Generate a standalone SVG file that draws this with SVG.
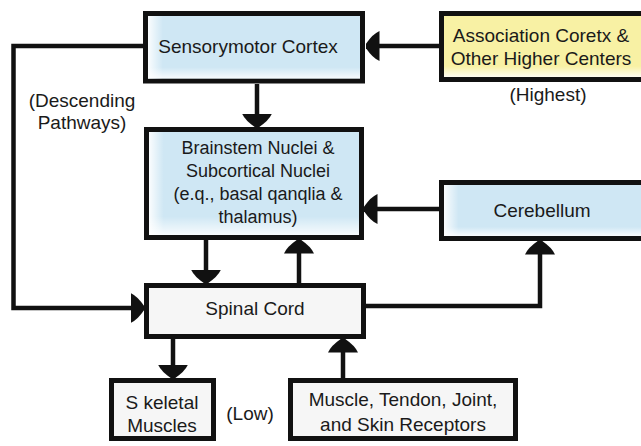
<svg xmlns="http://www.w3.org/2000/svg" width="641" height="446" viewBox="0 0 641 446">
  <defs>
    <style>
      .box { stroke: #111; stroke-width: 5; }
      .blue { fill: #cfe7f4; }
      .yellow { fill: #f8f1a4; }
      .plain { fill: #f6f6f6; }
      .wire { fill: none; stroke: #111; stroke-width: 4.5; }
      text { font-family: "Liberation Sans", Arial, sans-serif; font-size: 19px; fill: #1a1a1a; text-anchor: middle; }
      .small { font-size: 18px; }
    </style>
    <!-- soft white sheen along the left and bottom edges of the coloured boxes -->
    <linearGradient id="sheenX" x1="0" y1="0" x2="1" y2="0">
      <stop offset="0" stop-color="#fff" stop-opacity="0.9"/>
      <stop offset="0.07" stop-color="#fff" stop-opacity="0"/>
      <stop offset="1" stop-color="#fff" stop-opacity="0"/>
    </linearGradient>
    <linearGradient id="sheenY" x1="0" y1="0" x2="0" y2="1">
      <stop offset="0" stop-color="#fff" stop-opacity="0"/>
      <stop offset="0.82" stop-color="#fff" stop-opacity="0"/>
      <stop offset="1" stop-color="#fff" stop-opacity="0.85"/>
    </linearGradient>
    <marker id="head" viewBox="0 0 14 30" refX="13.5" refY="15" markerWidth="14" markerHeight="30" markerUnits="userSpaceOnUse" orient="auto">
      <path d="M0,0 Q7,3 14,13.5 L14,16.5 Q7,27 0,30 Z" fill="#111"/>
    </marker>
  </defs>

  <rect width="641" height="446" fill="#fff"/>

  <!-- connectors -->
  <g id="connectors">
    <line class="wire" x1="439" y1="46" x2="366" y2="46" marker-end="url(#head)"/>
    <line class="wire" x1="257" y1="84" x2="257" y2="127" marker-end="url(#head)"/>
    <line class="wire" x1="439" y1="209" x2="364" y2="209" marker-end="url(#head)"/>
    <line class="wire" x1="206" y1="240" x2="206" y2="283" marker-end="url(#head)"/>
    <line class="wire" x1="299" y1="283" x2="299" y2="240" marker-end="url(#head)"/>
    <path class="wire" d="M366,306 H540 V241" marker-end="url(#head)"/>
    <path class="wire" d="M143,46 H13.5 V308 H144" marker-end="url(#head)"/>
    <line class="wire" x1="173" y1="339" x2="173" y2="378" marker-end="url(#head)"/>
    <line class="wire" x1="343" y1="378" x2="343" y2="339" marker-end="url(#head)"/>
  </g>

  <!-- nodes -->
  <g id="sensorymotor-cortex">
    <rect class="box blue" x="145.5" y="13.5" width="217" height="67.5"/>
    <rect x="148" y="16" width="212" height="62.5" fill="url(#sheenX)"/>
    <rect x="148" y="16" width="212" height="62.5" fill="url(#sheenY)"/>
    <text x="248" y="53">Sensorymotor Cortex</text>
  </g>

  <g id="association-cortex">
    <rect class="box yellow" x="441.5" y="13.5" width="212" height="66"/>
    <rect x="444" y="16" width="207" height="61" fill="url(#sheenY)"/>
    <text x="541" y="42">Association Coretx &amp;</text>
    <text x="541" y="65">Other Higher Centers</text>
  </g>

  <g id="brainstem-nuclei">
    <rect class="box blue" x="146.5" y="129.5" width="215" height="108"/>
    <rect x="149" y="132" width="210" height="103" fill="url(#sheenX)"/>
    <rect x="149" y="132" width="210" height="103" fill="url(#sheenY)"/>
    <text class="small" x="258" y="154">Brainstem Nuclei &amp;</text>
    <text class="small" x="258" y="177">Subcortical Nuclei</text>
    <text class="small" x="258" y="200">(e.q., basal qanqlia &amp;</text>
    <text class="small" x="258" y="223">thalamus)</text>
  </g>

  <g id="cerebellum">
    <rect class="box blue" x="441.5" y="182.5" width="212" height="56"/>
    <rect x="444" y="185" width="207" height="51" fill="url(#sheenX)"/>
    <rect x="444" y="185" width="207" height="51" fill="url(#sheenY)"/>
    <text x="542" y="217">Cerebellum</text>
  </g>

  <g id="spinal-cord">
    <rect class="box plain" x="146.5" y="285.5" width="217" height="51"/>
    <text x="255" y="315">Spinal Cord</text>
  </g>

  <g id="skeletal-muscles">
    <rect class="box plain" x="111.5" y="380.5" width="102" height="58"/>
    <text x="162" y="409">S keletal</text>
    <text x="162" y="432">Muscles</text>
  </g>

  <g id="receptors">
    <rect class="box plain" x="290.5" y="380.5" width="225" height="58"/>
    <text x="403" y="406">Muscle, Tendon, Joint,</text>
    <text x="403" y="431">and Skin Receptors</text>
  </g>

  <!-- level labels -->
  <g id="labels">
    <text x="82" y="107">(Descending</text>
    <text x="82" y="129">Pathways)</text>
    <text x="548" y="101">(Highest)</text>
    <text x="250" y="420">(Low)</text>
  </g>
</svg>
